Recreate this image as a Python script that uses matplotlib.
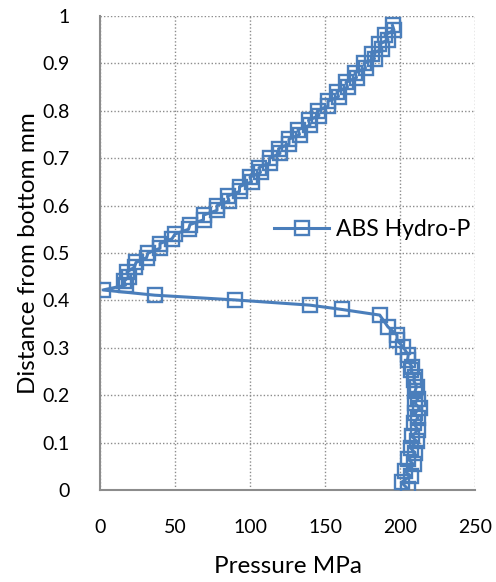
import matplotlib
matplotlib.use("Agg")
import matplotlib.pyplot as plt

# lower zone (oscillating near 205-212 MPa)
d_low = [0.003, 0.016, 0.030, 0.040, 0.054, 0.065, 0.078, 0.089, 0.103, 0.113,
         0.127, 0.141, 0.152, 0.162, 0.173, 0.183, 0.193, 0.208, 0.218, 0.232,
         0.239, 0.253, 0.260, 0.274, 0.285, 0.302, 0.316, 0.327, 0.344, 0.369]
p_low = [205, 201, 207, 203, 209, 205.5, 210, 207, 211, 208,
         212, 209, 212, 210, 213, 210, 212, 210, 211, 209,
         210, 207, 208, 205, 205.5, 202, 198, 198, 192, 186.5]

# drop to zero
d_mid = [0.381, 0.390, 0.401, 0.411, 0.422, 0.432]
p_mid = [161, 140, 90, 36.5, 2, 17]

# upper zone
d_up = [0.44, 0.45, 0.46, 0.47, 0.48, 0.49, 0.50, 0.51, 0.52, 0.53,
        0.54, 0.55, 0.56, 0.57, 0.58, 0.59, 0.60, 0.61, 0.62, 0.63,
        0.64, 0.65, 0.66, 0.67, 0.68, 0.69, 0.70, 0.71, 0.72, 0.73,
        0.74, 0.75, 0.76, 0.77, 0.78, 0.79, 0.80, 0.81, 0.82, 0.83,
        0.84, 0.85, 0.86, 0.87, 0.88, 0.89, 0.90, 0.91, 0.92, 0.93,
        0.94, 0.95, 0.96, 0.97, 0.98]
p_up = [16, 19, 18, 23, 24, 31, 32, 40, 40, 48,
        50, 59, 60, 69, 69, 78, 78, 86, 85, 93,
        93, 101, 100, 107, 106, 113, 113, 120, 119, 126,
        126, 133, 132, 140, 139, 146, 145, 152, 152, 159,
        158, 165, 164, 171, 170, 177, 176, 183, 181, 188,
        186, 192, 190, 196, 195]

dist = d_low + d_mid + d_up
pres = p_low + p_mid + p_up

plt.rcParams['font.family'] = ['Lato', 'DejaVu Sans']

fig = plt.figure(figsize=(4.96, 5.82), dpi=100)
ax = fig.add_axes([100 / 496, 92 / 582, 375 / 496, 474 / 582])

col = '#4a7ebb'
ax.plot(pres, dist, color=col, lw=2.2, marker='s', ms=10, mfc='none',
        mec=col, mew=1.7, label='ABS Hydro-P', zorder=3)

ax.set_xlim(0, 250)
ax.set_ylim(0, 1)
ax.set_xticks(range(0, 251, 50))
ax.set_yticks([i / 10 for i in range(11)])
ax.set_yticklabels(['0'] + ['%.1f' % (i / 10) for i in range(1, 10)] + ['1'])
ax.grid(True, color='#8c8c8c', ls=(0, (1, 1.5)), lw=1.0)
ax.set_axisbelow(True)
for s in ['top', 'right']:
    ax.spines[s].set_visible(False)
for s in ['left', 'bottom']:
    ax.spines[s].set_color('#8c8c8c')
    ax.spines[s].set_linewidth(1.5)
ax.tick_params(length=0, labelsize=14, colors='black')
ax.tick_params(axis='x', pad=21)
ax.tick_params(axis='y', pad=22)

ax.set_xlabel('Pressure MPa', fontsize=17.5, labelpad=14)
ax.set_ylabel('Distance from bottom mm', fontsize=17.5, labelpad=2)

ax.legend(loc='center left', bbox_to_anchor=(0.41, 0.549), frameon=False,
          fontsize=16.5, handlelength=2.4, handletextpad=0.3)

fig.savefig('out.png', dpi=100)
